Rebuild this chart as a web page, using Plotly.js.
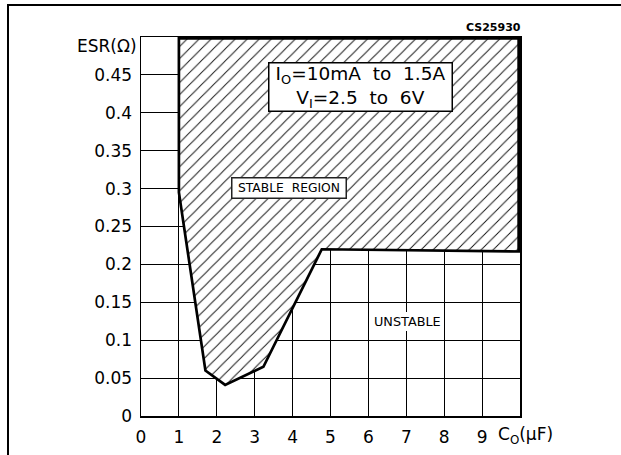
<!DOCTYPE html>
<html><head><meta charset="utf-8">
<script src="https://cdn.plot.ly/plotly-3.0.1.min.js"></script>
<style>
html,body{margin:0;padding:0;background:#fff;}
#wrap{position:relative;width:621px;height:455px;overflow:hidden;}
#frame{position:absolute;left:6.5px;top:3.5px;width:700px;height:600px;border-left:2.5px solid #000;border-top:2px solid #000;pointer-events:none;}
</style>
</head><body>
<div id="wrap"><div id="chart" style="width:621px;height:455px"></div><div id="frame"></div></div>
<script>
// Axis ticks
const xTicks = [0, 1, 2, 3, 4, 5, 6, 7, 8, 9];
const xTickLabels = ['0', '1', '2', '3', '4', '5', '6', '7', '8', '9'];
const yTicks = [0, 0.05, 0.1, 0.15, 0.2, 0.25, 0.3, 0.35, 0.4, 0.45];
const yTickLabels = ['0', '0.05', '0.1', '0.15', '0.2', '0.25', '0.3', '0.35', '0.4', '0.45'];
// Stable region boundary: output capacitance Co (uF) vs ESR (ohm)
const boundaryC = [1, 1, 1.7, 2.22, 3.23, 4.77, 10, 10, 1];
const boundaryESR = [0.5, 0.295, 0.06, 0.041, 0.065, 0.22, 0.217, 0.5, 0.5];

const FONT = 'DejaVu Sans';

const traces = [
  {
    type: 'scatter', mode: 'lines',
    x: boundaryC, y: boundaryESR,
    fill: 'toself',
    fillcolor: 'white',
    fillpattern: {shape: '/', size: 8.5, solidity: 0.11, fgcolor: '#111', bgcolor: 'white'},
    line: {color: '#000', width: 2.7},
    hoverinfo: 'skip'
  },
  {
    // top and right edges of the region (lie on the plot frame)
    type: 'scatter', mode: 'lines',
    x: boundaryC.slice(6), y: boundaryESR.slice(6),
    line: {color: '#000', width: 5.4},
    hoverinfo: 'skip'
  }
];

const axisCommon = {
  showgrid: true, gridcolor: '#000', gridwidth: 1,
  showline: true, linecolor: '#000', linewidth: 1.5, mirror: true,
  zeroline: false, ticks: '', fixedrange: true,
  tickfont: {family: FONT, size: 17, color: '#000'}
};

const layout = {
  width: 621, height: 455,
  margin: {l: 141, r: 101, t: 37, b: 39, pad: 0},
  paper_bgcolor: 'white', plot_bgcolor: 'white',
  showlegend: false,
  hovermode: false,
  xaxis: Object.assign({}, axisCommon, {
    range: [0, 10], tickmode: 'array', tickvals: xTicks, ticktext: xTickLabels,
    ticklabelstandoff: 5
  }),
  yaxis: Object.assign({}, axisCommon, {
    range: [0, 0.5], tickmode: 'array', tickvals: yTicks, ticktext: yTickLabels,
    ticklabelstandoff: 4
  }),
  annotations: [
    {text: 'ESR(Ω)', xref: 'paper', x: 0, xanchor: 'right', xshift: -2,
     yref: 'y', y: 0.5, yanchor: 'top', yshift: 3, showarrow: false,
     font: {family: FONT, size: 17, color: '#000'}},
    {text: 'C<sub>O</sub>(µF)', xref: 'x', x: 10, xanchor: 'center', xshift: 5,
     yref: 'paper', y: 0, yanchor: 'top', yshift: -6, showarrow: false,
     font: {family: FONT, size: 17, color: '#000'}},
    {text: 'CS25930', xref: 'paper', x: 1, xanchor: 'right', xshift: 3,
     yref: 'paper', y: 1, yanchor: 'middle', yshift: 10, showarrow: false,
     font: {family: FONT, size: 11, color: '#000', weight: 700}},
    {text: 'I<sub>O</sub>=10mA\u00a0\u00a0to\u00a0\u00a01.5A<br>V<sub>I</sub>=2.5\u00a0\u00a0to\u00a0\u00a06V',
     xref: 'x', x: 5.8, yref: 'y', y: 0.434, xanchor: 'center', yanchor: 'middle',
     showarrow: false, width: 180, height: 45, bgcolor: 'white',
     bordercolor: '#000', borderwidth: 1.5, borderpad: 1,
     font: {family: FONT, size: 18.5, color: '#000'}},
    {text: 'STABLE\u00a0\u00a0REGION', xref: 'x', x: 3.91, yref: 'y', y: 0.301,
     xanchor: 'center', yanchor: 'middle', showarrow: false,
     width: 111, height: 17, bgcolor: 'white', bordercolor: '#222', borderwidth: 1.5, borderpad: 1,
     font: {family: FONT, size: 12.3, color: '#000'}},
    {text: 'UNSTABLE', xref: 'x', x: 7.02, yref: 'y', y: 0.1244,
     xanchor: 'center', yanchor: 'middle', showarrow: false,
     bgcolor: 'white', borderwidth: 0, borderpad: 2,
     font: {family: FONT, size: 12.8, color: '#000'}}
  ]
};

Plotly.newPlot('chart', traces, layout, {staticPlot: true, displayModeBar: false});
</script>
</body></html>
